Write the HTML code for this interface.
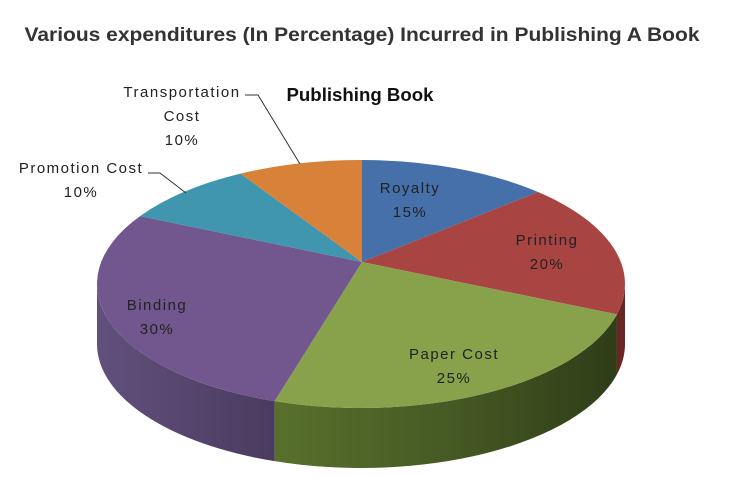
<!DOCTYPE html>
<html><head><meta charset="utf-8"><style>
body{margin:0;background:#fff;width:740px;height:485px;overflow:hidden}
svg{display:block}
text{font-family:"Liberation Sans",sans-serif}
</style></head><body>
<svg id="s" width="740" height="485" viewBox="0 0 740 485">
<defs>
<linearGradient id="gp" x1="0" x2="1" y1="0" y2="0"><stop offset="0" stop-color="#58702c"/><stop offset="0.5" stop-color="#465a24"/><stop offset="1" stop-color="#2f3d18"/></linearGradient>
<linearGradient id="gb" x1="0" x2="1" y1="0" y2="0"><stop offset="0" stop-color="#62507c"/><stop offset="1" stop-color="#4a3b60"/></linearGradient>
</defs>
<text x="362" y="41" text-anchor="middle" font-size="19" font-weight="bold" fill="#333" textLength="675" lengthAdjust="spacingAndGlyphs">Various expenditures (In Percentage) Incurred in Publishing A Book</text>
<text x="360" y="101" text-anchor="middle" font-size="18" font-weight="bold" fill="#111" textLength="147" lengthAdjust="spacingAndGlyphs">Publishing Book</text>
<g id="pie"></g>
<g font-size="15" fill="#222" text-anchor="middle" letter-spacing="1.5">
<text x="410" y="193">Royalty</text><text x="410" y="217">15%</text>
<text x="547" y="245">Printing</text><text x="547" y="269">20%</text>
<text x="454" y="359">Paper Cost</text><text x="454" y="383">25%</text>
<text x="157" y="310">Binding</text><text x="157" y="334">30%</text>
<text x="81" y="173">Promotion Cost</text><text x="81" y="197">10%</text>
<text x="182" y="97">Transportation</text><text x="182" y="121">Cost</text><text x="182" y="145">10%</text>
</g>
<g stroke="#333" fill="none" stroke-width="1">
<polyline points="148,173 160,173 186,193"/>
<polyline points="245,95 258,95 300,164"/>
</g>
</svg>
<script>
var cx=361,cy=284,rx=264,ry=124,ax=362,ay=262,d=60;
function t(x,y){return Math.atan2((y-cy)/ry,(x-cx)/rx);}
function P(a,dy){return [cx+rx*Math.cos(a),cy+ry*Math.sin(a)+(dy||0)];}
var pts=[[362,160],[538,192],[622,315],[274,402],[143,217],[242,175]];
var cols=["#4570a9","#a84543","#87a24b","#72578e","#3f96ae","#d88239"];
var ang=pts.map(function(p){return t(p[0],p[1]);});
var g=document.getElementById("pie"),h="";
function norm(a){while(a<0)a+=2*Math.PI;return a;}
function wall(a1,a2,fill){
 var p1=P(a1),p2=P(a2),q1=P(a1,d),q2=P(a2,d);
 var large=(a2-a1)>Math.PI?1:0;
 h+='<path d="M'+p1+' A'+rx+' '+ry+' 0 '+large+' 1 '+p2+' L'+q2+' A'+rx+' '+ry+' 0 '+large+' 0 '+q1+'Z" fill="'+fill+'"/>';
}
var a2=norm(ang[2]),a3=norm(ang[3]);
wall(0,a2,"#6a2624");
wall(a2,a3,"url(#gp)");
wall(a3,Math.PI,"url(#gb)");
for(var i=0;i<6;i++){
 var s=ang[i],e=ang[(i+1)%6];
 var sweep=norm(e-s);
 var ps=P(s),pe=P(e);
 h+='<path d="M'+ax+','+ay+' L'+ps+' A'+rx+' '+ry+' 0 '+(sweep>Math.PI?1:0)+' 1 '+pe+'Z" fill="'+cols[i]+'"/>';
}
g.innerHTML=h;
</script>
</body></html>
